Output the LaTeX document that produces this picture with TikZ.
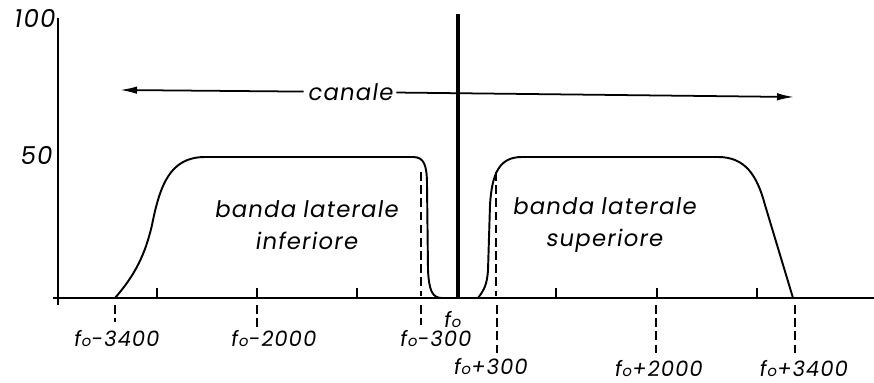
\documentclass[tikz,border=0pt]{standalone}
\usepackage{fontspec}
\newfontfamily\lettering{Poppins}[FakeSlant=0.15, LetterSpace=5]
\usetikzlibrary{arrows.meta}
\newcommand{\fo}{f\kern0.5pt{\fontsize{8.5}{9}\selectfont o}}

\begin{document}
\begin{tikzpicture}[
  x=0.02cm, y=-0.02cm,
  curve/.style={line width=1.1pt, line join=round},
  axis/.style={line width=1.1pt},
  carrier/.style={line width=2.4pt},
  guide/.style={line width=0.9pt, dash pattern=on 5pt off 2.5pt},
  tick/.style={line width=0.9pt},
  arr/.style={-{Latex[length=3.4mm,width=1.5mm]}, line width=1pt},
  lbl/.style={font=\lettering\fontsize{12}{13}\selectfont, inner sep=0pt, anchor=base},
  ylbl/.style={font=\lettering\fontsize{14}{15}\selectfont, inner sep=0pt, anchor=base east},
  band/.style={font=\lettering\fontsize{13}{18}\selectfont, align=center, inner sep=0pt}
]
\useasboundingbox (0,0) rectangle (874,382);

% axes
\draw[axis] (58,305) -- (58,18);
\draw[axis] (53,298) -- (874,298);
\foreach \tx in {157,257,357,556,657,757}
  \draw[tick] (\tx,298) -- (\tx,288);

% guides
\foreach \gx/\gy in {115/322, 257/327, 421/325, 497/353, 656/353, 795/353}
  \draw[guide] (\gx,305) -- (\gx,\gy);
\draw[guide] (421,172) -- (421,296);
\draw[guide] (496,172) -- (496,296);

% carrier
\draw[carrier] (458,298) -- (458,14);

% lower sideband
\draw[curve] (115,298) .. controls (135,275) and (145,255) .. (152,225)
  .. controls (160,185) and (170,157) .. (205,157) -- (413,157)
  .. controls (424,157) and (427,165) .. (427,185) -- (428,270)
  .. controls (429,290) and (432,298) .. (442,298);

% upper sideband
\draw[curve] (478,298) .. controls (484,290) and (487,285) .. (488,270)
  -- (490,205) .. controls (492,172) and (500,157) .. (522,157) -- (718,157)
  .. controls (745,157) and (757,175) .. (765,205) -- (793,298);

% channel
\node[band, inner sep=2pt] (canale) at (350,92) {canale};
\coordinate (chL) at (120,90);
\coordinate (chR) at (794,97);
\draw[arr] (canale) -- (chL);
\draw[arr] (canale) -- (chR);

\node[band] (inf) at (306,225) {banda laterale\\inferiore};
\node[band] (sup) at (604,225) {banda laterale\\superiore};

% y labels
\node[ylbl] (l100) at (55,27) {100};
\node[ylbl] (l50) at (52,164) {50};

% x labels
\node[lbl] (m3400) at (116,346) {\fo-3400};
\node[lbl] (m2000) at (273,346) {\fo-2000};
\node[lbl] (m300) at (435,346) {\fo-300};
\node[lbl] (f0) at (452,327) {\fo};
\node[lbl] (p300) at (490,374) {\fo+300};
\node[lbl] (p2000) at (658,376) {\fo+2000};
\node[lbl] (p3400) at (803,376) {\fo+3400};
\end{tikzpicture}
\end{document}
